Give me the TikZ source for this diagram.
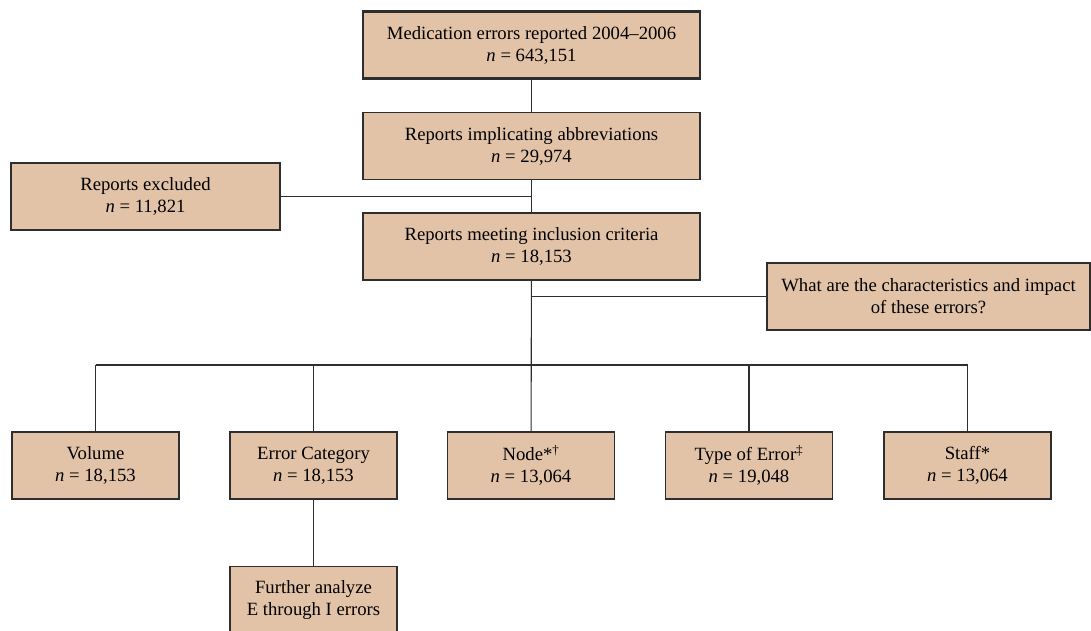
\documentclass[tikz,border=0pt]{standalone}
\usepackage{fontspec}
\setmainfont{Liberation Serif}
\usepackage{tikz}
\definecolor{BoxTan}{HTML}{E2C3A7}
\definecolor{LineGray}{HTML}{2E2E2E}

\begin{document}
\begin{tikzpicture}[
    x=1pt, y=-1pt,
    box/.style={
        rectangle,
        draw=LineGray,
        fill=BoxTan,
        line width=1.4pt,
        minimum width=167pt,
        minimum height=67pt,
        align=center,
        font=\fontsize{18.7}{22}\selectfont
    },
    wide/.style={
        box,
        minimum width=337pt
    },
    every path/.style={
        draw=LineGray,
        line width=1.1pt
    }
]
\useasboundingbox[draw=none] (0,0) rectangle (1091,631);

\node[wide, line width=2.4pt] (med) at (531.5,45) {Medication errors reported 2004--2006\\\textit{n} = 643,151};
\node[wide] (abbr) at (531.5,146) {Reports implicating abbreviations\\\textit{n} = 29,974};
\node[box, minimum width=269pt] (excl) at (145.5,196.5) {Reports excluded\\\textit{n} = 11,821};
\node[wide] (incl) at (531.5,246.5) {Reports meeting inclusion criteria\\\textit{n} = 18,153};
\node[box, minimum width=323pt] (quest) at (928.5,296.5) {What are the characteristics and impact\\of these errors?};

\node[box] (volume) at (95.5,465.5) {Volume\\\textit{n} = 18,153};
\node[box] (category) at (313.5,465.5) {Error Category\\\textit{n} = 18,153};
\node[box] (nodes) at (531,465.5) {Node*\textsuperscript{†}\\\textit{n} = 13,064};
\node[box] (errtype) at (749,465.5) {Type of Error\textsuperscript{‡}\\\textit{n} = 19,048};
\node[box] (staff) at (967.5,465.5) {Staff*\\\textit{n} = 13,064};

\node[box] (further) at (313.5,600) {Further analyze\\E through I errors};

\coordinate (busL) at (95.5,365);
\coordinate (busR) at (967.5,365);

\draw (med) -- (abbr);
\draw (abbr) -- (incl);
\draw (excl.east) -- (excl.east -| abbr.south);
\draw (incl) -- (nodes);
\draw (quest.west) -- (quest.west -| incl.south);
\draw (busL) -- (busR);
\draw (volume) -- (volume |- busL);
\draw (category) -- (category |- busL);
\draw (errtype) -- (errtype |- busL);
\draw (staff) -- (staff |- busL);
\draw (category) -- (further);

\end{tikzpicture}
\end{document}
